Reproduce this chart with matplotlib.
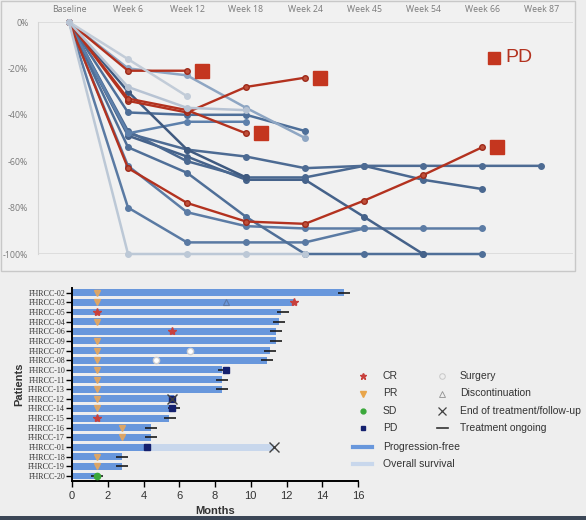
import numpy as np
import matplotlib
matplotlib.use("Agg")
import matplotlib.pyplot as plt
from matplotlib.patches import Rectangle

nan = np.nan
# ---------------- data: top panel ----------------
weeks = ["Baseline", "Week 6", "Week 12", "Week 18", "Week 24",
         "Week 45", "Week 54", "Week 66", "Week 87"]
y_ticks = [0, -20, -40, -60, -80, -100]

red_r1 = [0, -21, -21]
red_r2 = [0, -34, -39, -28, -24]
red_r3 = [0, -33, -38, -48]
red_r4 = [0, -63, -78, -86, -87, -77, -66, -54]

blue_b1 = [0, -16, -32]
blue_b2 = [0, -20, -23, -37, -50]
blue_b3 = [0, -28, -37, -38]
blue_b4 = [0, -39, -40, -40, -47]
blue_b5 = [0, -48, -43, -43]
blue_b6 = [0, -48, -55, -58, -63, -62, -62, -62, -62]
blue_b7 = [0, -47, -60, -67, -67, -62, -68, -72]
blue_b8 = [0, -49, -58, -68, -68, -84, -100]
blue_b9 = [0, -54, -65, -84, -100, -100, -100, -100]
blue_b10 = [0, -30, -55, -67]
blue_b11 = [0, -100, -100, -100, -100]
blue_b12 = [0, -80, -95, -95, -95, -89]
blue_b13 = [0, -62, -82, -88, -89, -89, -89, -89]

# ---------------- data: bottom panel ----------------
patients = ["FHRCC-02", "FHRCC-03", "FHRCC-05", "FHRCC-04", "FHRCC-06",
            "FHRCC-09", "FHRCC-07", "FHRCC-08", "FHRCC-10", "FHRCC-11",
            "FHRCC-13", "FHRCC-12", "FHRCC-14", "FHRCC-15", "FHRCC-16",
            "FHRCC-17", "FHRCC-01", "FHRCC-18", "FHRCC-19", "FHRCC-20"]
pfs = [15.2, 12.4, 11.7, 11.6, 11.4, 11.4, 11.1, 10.9, 8.4, 8.4,
       8.4, 5.7, 5.7, 5.4, 4.4, 4.4, 4.2, 2.8, 2.8, 1.35]
os_months = [nan, nan, nan, nan, nan, nan, nan, nan, nan, nan,
             nan, nan, nan, nan, nan, nan, 11.3, nan, nan, nan]
pr_t = [1.4, 1.4, nan, 1.4, nan, 1.4, 1.4, 1.4, 1.4, 1.4,
        1.4, 1.4, 1.4, nan, 2.8, 2.8, nan, 1.4, 1.4, nan]
cr_t = [nan, 12.4, 1.4, nan, 5.6, nan, nan, nan, nan, nan,
        nan, nan, nan, 1.4, nan, nan, nan, nan, nan, nan]
sd_t = [nan] * 19 + [1.4]
pd_t = [nan, nan, nan, nan, nan, nan, nan, nan, 8.6, nan,
        nan, 5.6, 5.6, nan, nan, nan, 4.2, nan, nan, nan]
surgery_t = [nan, nan, nan, nan, nan, nan, 6.6, 4.7, nan, nan,
             nan, nan, nan, nan, nan, nan, nan, nan, nan, nan]
disc_t = [nan, 8.6] + [nan] * 18
end_t = [nan, nan, nan, nan, nan, nan, nan, nan, nan, nan,
         nan, 5.6, nan, nan, nan, nan, 11.3, nan, nan, nan]
ongoing_t = [15.2, nan, 11.8, 11.6, 11.4, 11.4, 11.1, 10.9, 8.5, 8.4,
             8.4, nan, 5.7, 5.5, 4.4, 4.4, nan, 2.8, 2.8, 1.4]
month_ticks = [0, 2, 4, 6, 8, 10, 12, 14, 16]

# ---------------- figure ----------------
W, H = 586, 520
fig = plt.figure(figsize=(W / 100, H / 100), dpi=100, facecolor="#eeeeee")

def fx(px):
    return px / W

def fy(py):
    return 1 - py / H

# top panel frame
frame = Rectangle((fx(1), fy(271)), fx(574), 270 / H,
                  transform=fig.transFigure, facecolor="#f1f1f1",
                  edgecolor="#c8c8c8", lw=1.0, zorder=-10)
fig.patches.append(frame)

ax = fig.add_axes([fx(38), fy(254), fx(573 - 38), (254 - 22) / H])
ax.set_facecolor("none")
xs = np.arange(len(weeks))

series = [
    (blue_b12, "#5a7aa3", 2), (blue_b13, "#5c7ca5", 2),
    (blue_b9, "#4f6f98", 2), (blue_b8, "#45628a", 2), (blue_b7, "#4a6890", 2),
    (blue_b6, "#4d6b93", 2), (blue_b5, "#5d80ab", 2), (blue_b4, "#4e6f99", 2),
    (blue_b10, "#3f5a80", 2), (blue_b2, "#8ea6c3", 2.5),
    (blue_b11, "#bcc8d6", 3.5), (blue_b1, "#c2ccd8", 3.5), (blue_b3, "#b7c3d3", 3.5),
]
for vals, col, z in series:
    ax.plot(xs[:len(vals)], vals, color=col, lw=1.8, marker="o", ms=4,
            mfc=col, mec=col, clip_on=False, zorder=z)

reds = [red_r1, red_r2, red_r3, red_r4]
for vals in reds:
    ax.plot(xs[:len(vals)], vals, color="#b3321f", lw=1.7, marker="o", ms=4,
            mfc="#c0503a", mec="#9e2a1a", clip_on=False, zorder=3)
    ax.plot(xs[len(vals) - 1] + 0.25, vals[-1], marker="s", ms=10,
            color="#c4361f", ls="none", clip_on=False, zorder=4)

ax.set_xlim(-0.525, 8.54)
ax.set_ylim(-100, 0)
ax.axhline(0, color="#d9d9d9", lw=1.2, zorder=1)
ax.axhline(-100, color="#d9d9d9", lw=1.2, zorder=1)
for s in ["top", "right", "bottom"]:
    ax.spines[s].set_visible(False)
ax.spines["left"].set_color("#d5d5d5")
ax.xaxis.tick_top()
ax.set_xticks(xs)
ax.set_xticklabels(weeks, fontsize=6.3, color="#7a7a7a", family="Open Sans")
ax.set_yticks(y_ticks)
ax.set_yticklabels([f"{v}%" for v in y_ticks], fontsize=6.3, color="#7a7a7a",
                   family="Open Sans")
ax.tick_params(length=0, pad=7)
ax.tick_params(axis="x", pad=6)

ax.plot(0.852, 0.845, marker="s", ms=9, color="#c4361f", transform=ax.transAxes,
        clip_on=False)
ax.text(0.874, 0.845, "PD", transform=ax.transAxes, fontsize=14,
        color="#b3321f", va="center", ha="left", family="Liberation Sans")

# ---------------- bottom panel ----------------
bx = fig.add_axes([fx(72), fy(480.8), fx(358 - 72), (480.8 - 287.9) / H])
bx.set_facecolor("none")
ys = np.arange(len(patients))
bx.barh(ys, os_months, height=0.72, color="#c8d7ec", zorder=1)
bx.barh(ys, pfs, height=0.72, color="#6897dc", zorder=2)

bx.plot(pr_t, ys, "v", color="#eaa85a", ms=3.8, alpha=0.85, zorder=4, ls="none")
bx.plot(cr_t, ys, "*", color="#c8403c", ms=6, zorder=4, ls="none")
bx.plot(sd_t, ys, "o", color="#3aa83a", ms=4.5, zorder=4, ls="none")
bx.plot(pd_t, ys, "s", color="#14206e", ms=4.5, zorder=4, ls="none")
bx.plot(surgery_t, ys, "o", mfc="white", mec="#d0d0d0", ms=4.5, zorder=4, ls="none")
bx.plot(disc_t, ys, "^", mfc="none", mec="#5a78a8", ms=4.5, mew=0.8, zorder=4, ls="none")
bx.plot(end_t, ys, "x", color="#404040", ms=6.5, mew=1.0, zorder=5, ls="none")
bx.plot(ongoing_t, ys, "_", color="#1a1a1a", ms=9, mew=1.2, zorder=3, ls="none")

bx.set_ylim(len(patients) - 0.5, -0.5)
bx.set_xlim(0, 16)
bx.set_yticks(ys)
bx.set_yticklabels(patients, fontsize=5.8, family="Liberation Serif", color="#333333")
bx.set_xticks(month_ticks)
bx.set_xticklabels([str(m) for m in month_ticks], fontsize=8,
                   family="Liberation Sans", color="#333333")
bx.tick_params(axis="y", length=4, width=1, pad=1)
bx.tick_params(axis="x", length=4, width=1, pad=3)
for s in ["top", "right"]:
    bx.spines[s].set_visible(False)
for s in ["left", "bottom"]:
    bx.spines[s].set_linewidth(1.4)
bx.set_xlabel("Months", fontsize=8, fontweight="bold", family="Liberation Sans",
              color="#333333", labelpad=4)
bx.set_ylabel("Patients", fontsize=8, fontweight="bold", family="Liberation Sans",
              color="#333333", labelpad=3)

# legend (manual, pixel layout)
lg = fig.add_axes([fx(340), fy(480), fx(246), 120 / H])
lg.set_xlim(340, 586)
lg.set_ylim(480, 360)
lg.axis("off")
tf = dict(fontsize=7.5, family="Liberation Sans", color="#333333", va="center")
lg.plot(363, 376, "*", color="#c8403c", ms=5)
lg.text(383, 376, "CR", **tf)
lg.plot(363, 393.5, "v", color="#e8a54a", ms=4)
lg.text(383, 393.5, "PR", **tf)
lg.plot(363, 411, "o", color="#3aa83a", ms=3.5)
lg.text(383, 411, "SD", **tf)
lg.plot(363, 428, "s", color="#14206e", ms=3.5)
lg.text(383, 428, "PD", **tf)
lg.plot(442, 376, "o", mfc="none", mec="#c8c8c8", ms=4, mew=0.7)
lg.text(460, 376, "Surgery", **tf)
lg.plot(442, 393.5, "^", mfc="none", mec="#909090", ms=4, mew=0.6)
lg.text(460, 393.5, "Discontinuation", **tf)
lg.plot(442, 411, "x", color="#404040", ms=6, mew=0.9)
lg.text(460, 411, "End of treatment/follow-up", **tf)
lg.plot([437, 448], [428, 428], color="#333333", lw=1.2)
lg.text(460, 428, "Treatment ongoing", **tf)
lg.plot([353, 372], [447, 447], color="#6897dc", lw=3)
lg.text(383, 447, "Progression-free", **tf)
lg.plot([353, 372], [464, 464], color="#c8d7ec", lw=3)
lg.text(383, 464, "Overall survival", **tf)

# dark strip at the bottom of the screenshot
fig.patches.append(Rectangle((0, 0), 1, 4 / H, transform=fig.transFigure,
                             facecolor="#3b4656", edgecolor="none", zorder=-10))

fig.savefig("out.png", dpi=100, facecolor=fig.get_facecolor())
